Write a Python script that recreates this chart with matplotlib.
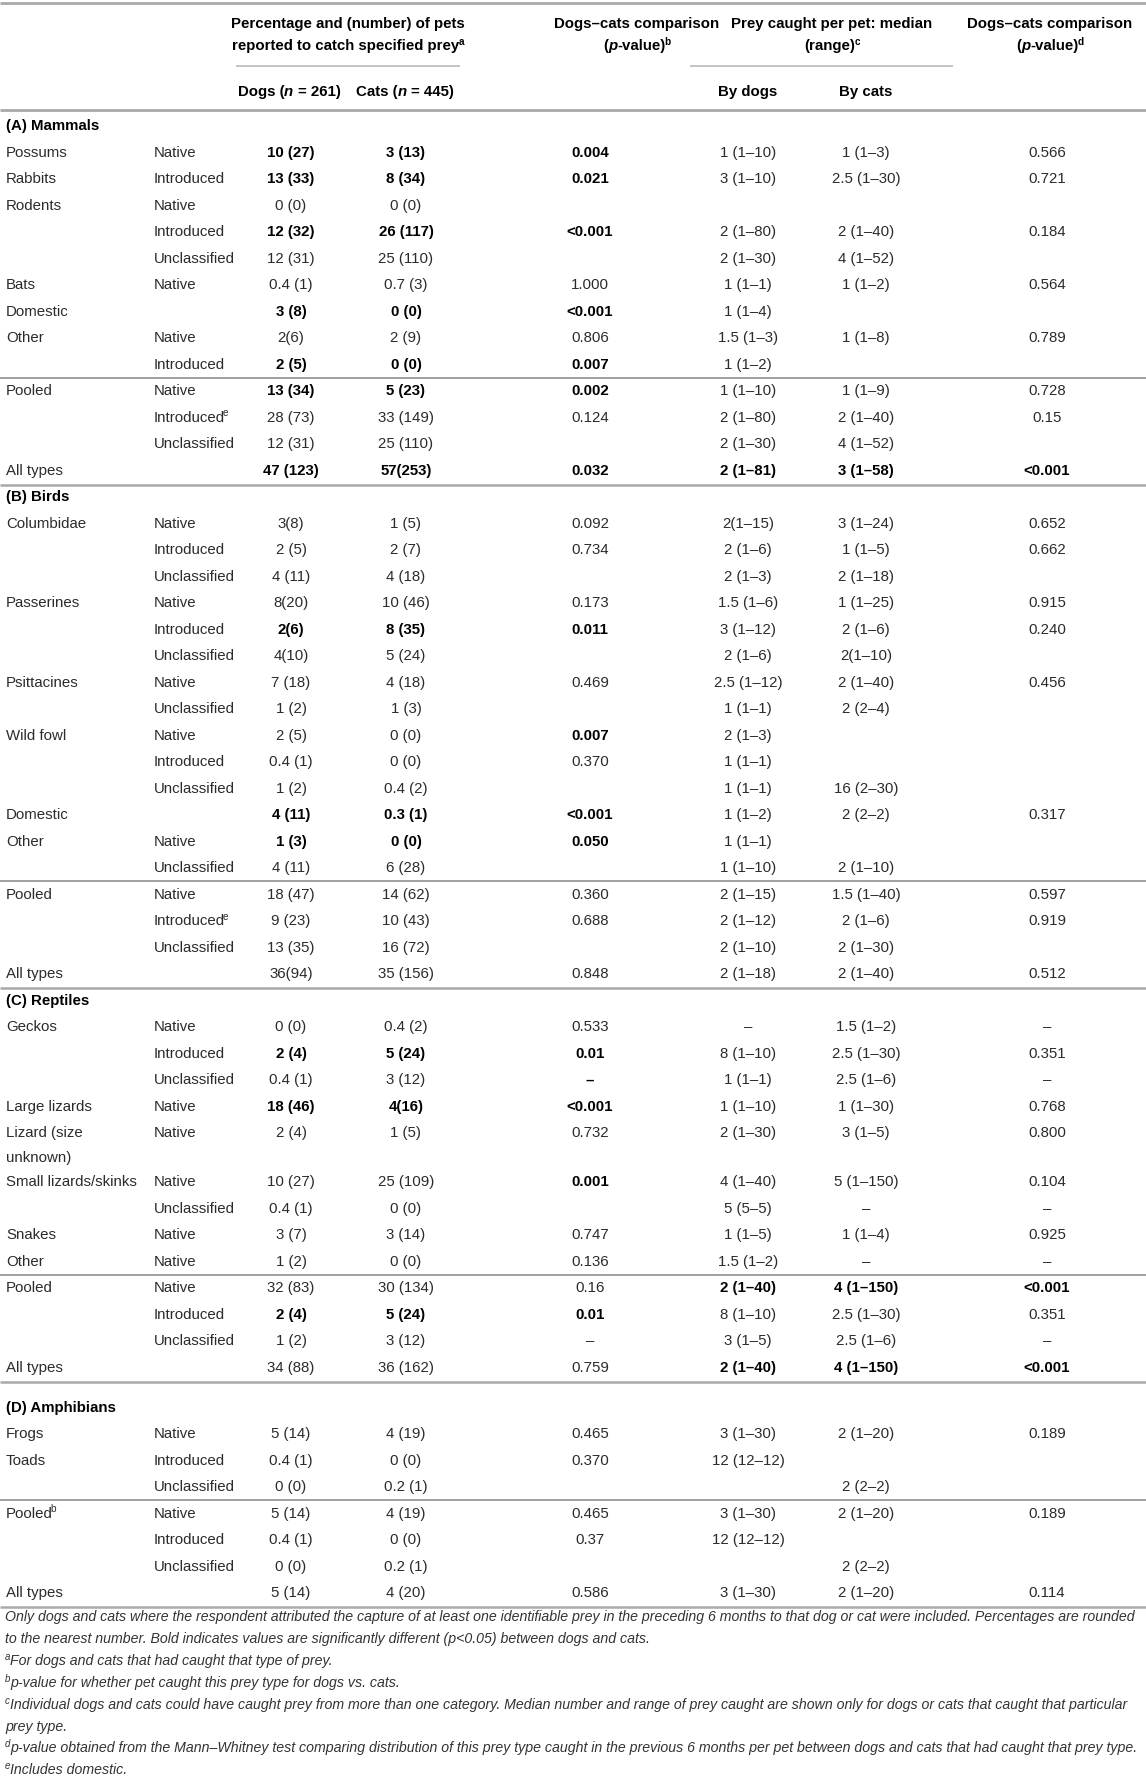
#!/usr/bin/env python3
"""Prey caught by dogs and cats - table drawn as a matplotlib figure (out.png)."""
import matplotlib

matplotlib.use("Agg")
import matplotlib.pyplot as plt

W, H = 1146, 1780

# ---- table data, one entry per row ----
CATEGORY = [
    "(A) Mammals", "Possums", "Rabbits", "Rodents", "", "", "Bats", "Domestic", "Other", "",
    "Pooled", "", "", "All types",
    "(B) Birds", "Columbidae", "", "", "Passerines", "", "", "Psittacines", "", "Wild fowl", "", "",
    "Domestic", "Other", "", "Pooled", "", "", "All types",
    "(C) Reptiles", "Geckos", "", "", "Large lizards", "Lizard (size\nunknown)", "Small lizards/skinks", "",
    "Snakes", "Other", "Pooled", "", "", "All types",
    "(D) Amphibians", "Frogs", "Toads", "", "Pooled^b", "", "", "All types",
]
SUBTYPE = [
    "", "Native", "Introduced", "Native", "Introduced", "Unclassified", "Native", "", "Native", "Introduced",
    "Native", "Introduced^e", "Unclassified", "",
    "", "Native", "Introduced", "Unclassified", "Native", "Introduced", "Unclassified", "Native", "Unclassified",
    "Native", "Introduced", "Unclassified", "", "Native", "Unclassified", "Native", "Introduced^e", "Unclassified", "",
    "", "Native", "Introduced", "Unclassified", "Native", "Native", "Native", "Unclassified",
    "Native", "Native", "Native", "Introduced", "Unclassified", "",
    "", "Native", "Introduced", "Unclassified", "Native", "Introduced", "Unclassified", "",
]
DOGS_PCT = [
    "", "10 (27)", "13 (33)", "0 (0)", "12 (32)", "12 (31)", "0.4 (1)", "3 (8)", "2(6)", "2 (5)",
    "13 (34)", "28 (73)", "12 (31)", "47 (123)",
    "", "3(8)", "2 (5)", "4 (11)", "8(20)", "2(6)", "4(10)", "7 (18)", "1 (2)", "2 (5)", "0.4 (1)", "1 (2)",
    "4 (11)", "1 (3)", "4 (11)", "18 (47)", "9 (23)", "13 (35)", "36(94)",
    "", "0 (0)", "2 (4)", "0.4 (1)", "18 (46)", "2 (4)", "10 (27)", "0.4 (1)",
    "3 (7)", "1 (2)", "32 (83)", "2 (4)", "1 (2)", "34 (88)",
    "", "5 (14)", "0.4 (1)", "0 (0)", "5 (14)", "0.4 (1)", "0 (0)", "5 (14)",
]
CATS_PCT = [
    "", "3 (13)", "8 (34)", "0 (0)", "26 (117)", "25 (110)", "0.7 (3)", "0 (0)", "2 (9)", "0 (0)",
    "5 (23)", "33 (149)", "25 (110)", "57(253)",
    "", "1 (5)", "2 (7)", "4 (18)", "10 (46)", "8 (35)", "5 (24)", "4 (18)", "1 (3)", "0 (0)", "0 (0)", "0.4 (2)",
    "0.3 (1)", "0 (0)", "6 (28)", "14 (62)", "10 (43)", "16 (72)", "35 (156)",
    "", "0.4 (2)", "5 (24)", "3 (12)", "4(16)", "1 (5)", "25 (109)", "0 (0)",
    "3 (14)", "0 (0)", "30 (134)", "5 (24)", "3 (12)", "36 (162)",
    "", "4 (19)", "0 (0)", "0.2 (1)", "4 (19)", "0 (0)", "0.2 (1)", "4 (20)",
]
P_CATCH = [
    "", "0.004", "0.021", "", "<0.001", "", "1.000", "<0.001", "0.806", "0.007",
    "0.002", "0.124", "", "0.032",
    "", "0.092", "0.734", "", "0.173", "0.011", "", "0.469", "", "0.007", "0.370", "",
    "<0.001", "0.050", "", "0.360", "0.688", "", "0.848",
    "", "0.533", "0.01", "–", "<0.001", "0.732", "0.001", "",
    "0.747", "0.136", "0.16", "0.01", "–", "0.759",
    "", "0.465", "0.370", "", "0.465", "0.37", "", "0.586",
]
DOGS_MED = [
    "", "1 (1–10)", "3 (1–10)", "", "2 (1–80)", "2 (1–30)", "1 (1–1)", "1 (1–4)", "1.5 (1–3)", "1 (1–2)",
    "1 (1–10)", "2 (1–80)", "2 (1–30)", "2 (1–81)",
    "", "2(1–15)", "2 (1–6)", "2 (1–3)", "1.5 (1–6)", "3 (1–12)", "2 (1–6)", "2.5 (1–12)", "1 (1–1)",
    "2 (1–3)", "1 (1–1)", "1 (1–1)", "1 (1–2)", "1 (1–1)", "1 (1–10)", "2 (1–15)", "2 (1–12)", "2 (1–10)",
    "2 (1–18)",
    "", "–", "8 (1–10)", "1 (1–1)", "1 (1–10)", "2 (1–30)", "4 (1–40)", "5 (5–5)",
    "1 (1–5)", "1.5 (1–2)", "2 (1–40)", "8 (1–10)", "3 (1–5)", "2 (1–40)",
    "", "3 (1–30)", "12 (12–12)", "", "3 (1–30)", "12 (12–12)", "", "3 (1–30)",
]
CATS_MED = [
    "", "1 (1–3)", "2.5 (1–30)", "", "2 (1–40)", "4 (1–52)", "1 (1–2)", "", "1 (1–8)", "",
    "1 (1–9)", "2 (1–40)", "4 (1–52)", "3 (1–58)",
    "", "3 (1–24)", "1 (1–5)", "2 (1–18)", "1 (1–25)", "2 (1–6)", "2(1–10)", "2 (1–40)", "2 (2–4)",
    "", "", "16 (2–30)", "2 (2–2)", "", "2 (1–10)", "1.5 (1–40)", "2 (1–6)", "2 (1–30)", "2 (1–40)",
    "", "1.5 (1–2)", "2.5 (1–30)", "2.5 (1–6)", "1 (1–30)", "3 (1–5)", "5 (1–150)", "–",
    "1 (1–4)", "–", "4 (1–150)", "2.5 (1–30)", "2.5 (1–6)", "4 (1–150)",
    "", "2 (1–20)", "", "2 (2–2)", "2 (1–20)", "", "2 (2–2)", "2 (1–20)",
]
P_PREY = [
    "", "0.566", "0.721", "", "0.184", "", "0.564", "", "0.789", "",
    "0.728", "0.15", "", "<0.001",
    "", "0.652", "0.662", "", "0.915", "0.240", "", "0.456", "", "", "", "",
    "0.317", "", "", "0.597", "0.919", "", "0.512",
    "", "–", "0.351", "–", "0.768", "0.800", "0.104", "–",
    "0.925", "–", "<0.001", "0.351", "–", "<0.001",
    "", "0.189", "", "", "0.189", "", "", "0.114",
]
# columns printed in bold (2 = dogs %, 3 = cats %, 4 = p catch, 5/6 = medians, 7 = p prey)
BOLD = [
    "", "234", "234", "", "234", "", "", "234", "", "234",
    "234", "", "", "234567",
    "", "", "", "", "", "234", "", "", "", "4", "", "",
    "234", "234", "", "", "", "", "",
    "", "", "234", "4", "234", "", "4", "",
    "", "", "567", "234", "", "567",
    "", "", "", "", "", "", "", "",
]

FOOTNOTES = [
    ("", "Only dogs and cats where the respondent attributed the capture of at least one identifiable prey "
         "in the preceding 6 months to that dog or cat were included. Percentages are rounded"),
    ("", "to the nearest number. Bold indicates values are significantly different (p<0.05) between dogs and cats."),
    ("a", "For dogs and cats that had caught that type of prey."),
    ("b", "p-value for whether pet caught this prey type for dogs vs. cats."),
    ("c", "Individual dogs and cats could have caught prey from more than one category. Median number and "
          "range of prey caught are shown only for dogs or cats that caught that particular"),
    ("", "prey type."),
    ("d", "p-value obtained from the Mann–Whitney test comparing distribution of this prey type caught in "
          "the previous 6 months per pet between dogs and cats that had caught that prey type."),
    ("e", "Includes domestic."),
]

# ---- layout (pixels, y grows downward) ----
FAMILY = "Liberation Sans"
FS = 10.8
SUP_FS = 7.2
TXT = "#2b2b2b"
COL_X = [6, 154, 291, 406, 590, 748, 866, 1047]
ROW0_Y, STEP = 125, 26.5
GAP_BEFORE = {"(D) Amphibians": 0.5}
BASE = 5.3  # baseline offset below the visual row centre

fig = plt.figure(figsize=(W / 100, H / 100), dpi=100)
ax = fig.add_axes([0, 0, 1, 1])
ax.set_xlim(0, W)
ax.set_ylim(H, 0)
ax.axis("off")
renderer = fig.canvas.get_renderer()
_cache = {}


def adv_width(s, props):
    """Advance width of s in px (bars around it keep spaces and side bearings)."""
    if not s:
        return 0.0
    key = (s, tuple(sorted(props.items())))
    if key not in _cache:
        t1 = ax.text(0, 0, "|" + s + "|", **props)
        t2 = ax.text(0, 0, "||", **props)
        _cache[key] = (t1.get_window_extent(renderer).width - t2.get_window_extent(renderer).width)
        t1.remove()
        t2.remove()
    return _cache[key]


def draw_runs(x, y, parts, ha="left"):
    """Draw text runs side by side on one baseline; a run may carry 'rise' and 'dx' (px)."""
    extra = ("rise", "dx")
    clean = [(s, {k: v for k, v in p.items() if k not in extra}, p.get("rise", 0), p.get("dx", 0))
             for s, p in parts]
    widths = [adv_width(s, p) + dx for s, p, _, dx in clean]
    total = sum(widths)
    cur = {"left": x, "center": x - total / 2, "right": x - total}[ha]
    for (s, p, rise, dx), w in zip(clean, widths):
        body = s.lstrip(" ")
        lead = adv_width(s[: len(s) - len(body)], p)
        if body:
            ax.text(cur + dx + lead, y - rise, body, ha="left", va="baseline", **p)
        cur += w


def style(bold=False, italic=False, size=FS, color=None):
    return {"family": FAMILY, "fontsize": size, "fontweight": "bold" if bold else "normal",
            "fontstyle": "italic" if italic else "normal",
            "color": color or ("black" if bold else TXT)}


def sup_parts(label, bold=False):
    if "^" in label:
        main, sup = label.split("^")
        return [(main, style(bold)), (sup, {**style(bold, size=SUP_FS), "rise": 5.5, "dx": -2.5})]
    return [(label, style(bold))]


def rule(y, x0=0, x1=W, lw=1.6, color="#a9a9a9"):
    ax.plot([x0, x1], [y, y], color=color, lw=lw, solid_capstyle="butt")


# ---- header ----
rule(3, lw=2.0)
rule(110, lw=2.0)
rule(66, 236, 460, lw=1.1, color="#b3b3b3")
rule(66, 690, 953, lw=1.1, color="#b3b3b3")
HB = style(True)
HBI = style(True, True)
SUPB = {**style(True, size=SUP_FS), "rise": 5.5, "dx": -1}
draw_runs(348, 23 + BASE, [("Percentage and (number) of pets", HB)], "center")
draw_runs(348, 45 + BASE, [("reported to catch specified prey", HB), ("a", SUPB)], "center")
draw_runs(289, 91 + BASE, [("Dogs (", HB), ("n", HBI), (" = 261)", HB)], "center")
draw_runs(405, 91 + BASE, [("Cats (", HB), ("n", HBI), (" = 445)", HB)], "center")
draw_runs(637, 23 + BASE, [("Dogs–cats comparison", HB)], "center")
draw_runs(637, 45 + BASE, [("(", HB), ("p", HBI), ("-value)", HB), ("b", SUPB)], "center")
draw_runs(832, 23 + BASE, [("Prey caught per pet: median", HB)], "center")
draw_runs(832, 45 + BASE, [("(range)", HB), ("c", SUPB)], "center")
draw_runs(748, 91 + BASE, [("By dogs", HB)], "center")
draw_runs(866, 91 + BASE, [("By cats", HB)], "center")
draw_runs(1050, 23 + BASE, [("Dogs–cats comparison", HB)], "center")
draw_runs(1050, 45 + BASE, [("(", HB), ("p", HBI), ("-value)", HB), ("d", SUPB)], "center")

# ---- body ----
y = ROW0_Y
prev_y = None
n_rows = len(CATEGORY)
for i in range(n_rows):
    cat = CATEGORY[i]
    if i > 0:
        step = 1.0 + GAP_BEFORE.get(cat, 0.0)
        if "\n" in CATEGORY[i - 1]:
            step = 1.85
        y = prev_y + step * STEP
    section = cat.startswith("(")
    if cat.startswith("Pooled"):
        rule((prev_y + y) / 2 + 1, lw=1.1, color="#858585")
    cells = [cat, SUBTYPE[i], DOGS_PCT[i], CATS_PCT[i], P_CATCH[i], DOGS_MED[i], CATS_MED[i], P_PREY[i]]
    for c, val in enumerate(cells):
        if not val:
            continue
        bold = section or str(c) in BOLD[i]
        if c < 2:
            lines = val.split("\n")
            for k, ln in enumerate(lines):
                draw_runs(COL_X[c], y + BASE + k * 0.93 * STEP, sup_parts(ln, bold), "left")
        else:
            ax.text(COL_X[c], y + BASE, val, ha="center", va="baseline", **style(bold))
    if cat == "All types":
        rule(y + 15, lw=1.8)
    prev_y = y

# ---- footnotes ----
foot_y0 = prev_y + 24
foot_step = 21.9
probe = {**style(italic=True, size=10), "color": TXT}
fit = 10 * (W - 11) / adv_width(FOOTNOTES[0][1], probe)
FI = style(italic=True, size=fit, color="#333333")
FSUP = {**style(italic=True, size=fit * 0.68, color="#333333"), "rise": 5}
for k, (mark, line) in enumerate(FOOTNOTES):
    parts = ([(mark, FSUP)] if mark else []) + [(line, FI)]
    draw_runs(5, foot_y0 + k * foot_step + BASE, parts, "left")

fig.savefig("out.png", dpi=100)
